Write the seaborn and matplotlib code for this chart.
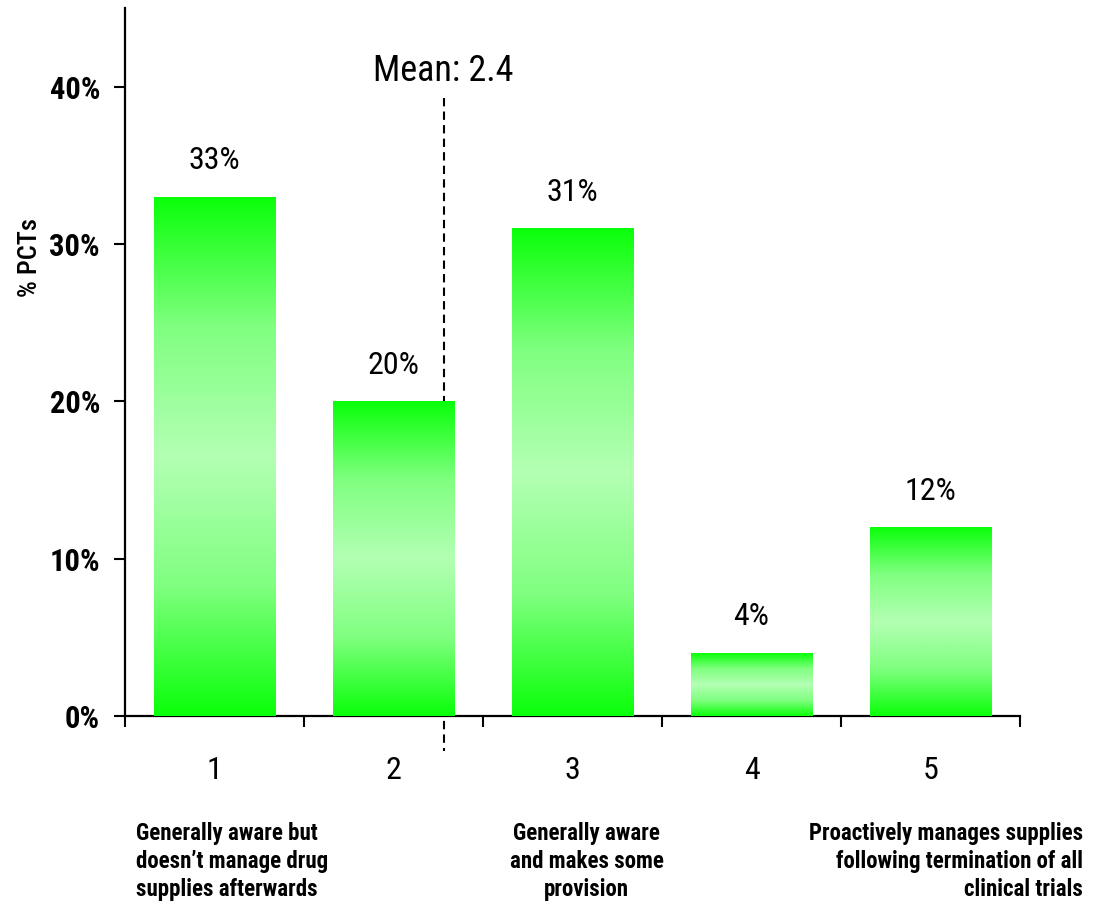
import numpy as np
import pandas as pd
import seaborn as sns
import matplotlib.pyplot as plt
from matplotlib.colors import LinearSegmentedColormap

# data
categories = ["1", "2", "3", "4", "5"]
pct_values = [33, 20, 31, 4, 12]
value_labels = ["33%", "20%", "31%", "4%", "12%"]
y_ticks = [0, 10, 20, 30, 40]
y_tick_labels = ["0%", "10%", "20%", "30%", "40%"]
mean_text = "Mean: 2.4"
mean_line_pos = 1.28  # where the dashed line sits on the category axis
descriptions = [
    "Generally aware but\ndoesn\u2019t manage drug\nsupplies afterwards",
    "Generally aware\nand makes some\nprovision",
    "Proactively manages supplies\nfollowing termination of all\nclinical trials",
]

sns.set_theme(style="white")
plt.rcParams['font.family'] = ['Liberation Sans Narrow', 'Roboto Condensed',
                               'DejaVu Sans Condensed', 'Roboto', 'DejaVu Sans']
plt.rcParams['text.color'] = 'black'
plt.rcParams['xtick.color'] = 'black'
plt.rcParams['ytick.color'] = 'black'

df = pd.DataFrame({"cat": categories, "pct": pct_values})

fig = plt.figure(figsize=(10.94, 9.17), dpi=100)
ax = fig.add_axes([0.1143, 0.2192, 0.8181, 0.7721])

sns.barplot(data=df, x="cat", y="pct", color="#00ff00", width=0.68,
            ax=ax, zorder=3, saturation=1)

# gradient fill: bright green at top and bottom, pale in the middle
cmap = LinearSegmentedColormap.from_list(
    "grn", ["#0aff0a", "#80ff80", "#b3ffb3", "#80ff80", "#0aff0a"])
grad = np.linspace(0, 1, 256).reshape(-1, 1)
for p in ax.patches:
    x0, y0 = p.get_x(), p.get_y()
    w, h = p.get_width(), p.get_height()
    im = ax.imshow(grad, cmap=cmap, aspect="auto", origin="lower",
                   extent=[x0, x0 + w, y0, y0 + h], zorder=3)
    im.set_clip_path(p)
    p.set_facecolor("none")
    p.set_edgecolor("none")

ax.set_xlim(-0.5, 4.5)
ax.set_ylim(0, 45)

# value labels
for i, (v, lab) in enumerate(zip(pct_values, value_labels)):
    ax.text(i, v + 2.3, lab, ha="center", va="center", fontsize=23, zorder=5)

# mean line
ax.plot([mean_line_pos, mean_line_pos], [39.3, -2.2], ls=(0, (4, 2.5)),
        color="black", lw=1.5, zorder=2, clip_on=False)
ax.text(mean_line_pos, 41.0, mean_text, ha="center", va="center", fontsize=26)

# axes styling
sns.despine(ax=ax)
for s in ["left", "bottom"]:
    ax.spines[s].set_linewidth(1.6)
    ax.spines[s].set_color("black")
ax.set_yticks(y_ticks)
ax.set_yticklabels(y_tick_labels, fontsize=22, fontweight="bold")
ax.tick_params(axis="y", direction="out", length=8, width=1.5, pad=10, left=True)
ax.set_xticks(range(len(categories)))
ax.set_xticklabels(categories, fontsize=23)
ax.set_xticks(np.arange(-0.5, 5, 1), minor=True)
ax.tick_params(axis="x", which="major", length=0, pad=29)
ax.tick_params(axis="x", which="minor", direction="out", length=8, width=1.5,
               bottom=True)
ax.set_xlabel("")
ax.set_ylabel("")
fig.text(30 / 1094, 1 - 258 / 917, "% PCTs", rotation=90, ha="center",
         va="center", fontsize=19, fontweight="medium")

# category descriptions
ax.text(-0.44, -6.75, descriptions[0], ha="left", va="top", fontsize=16.5,
        fontweight="bold", linespacing=1.26, clip_on=False)
ax.text(2.08, -6.75, descriptions[1], ha="center", va="top", fontsize=16.5,
        fontweight="bold", linespacing=1.26, clip_on=False)
ax.text(4.85, -6.75, descriptions[2], ha="right", va="top", fontsize=16.5,
        fontweight="bold", linespacing=1.26, clip_on=False)

fig.savefig("out.png", dpi=100)
